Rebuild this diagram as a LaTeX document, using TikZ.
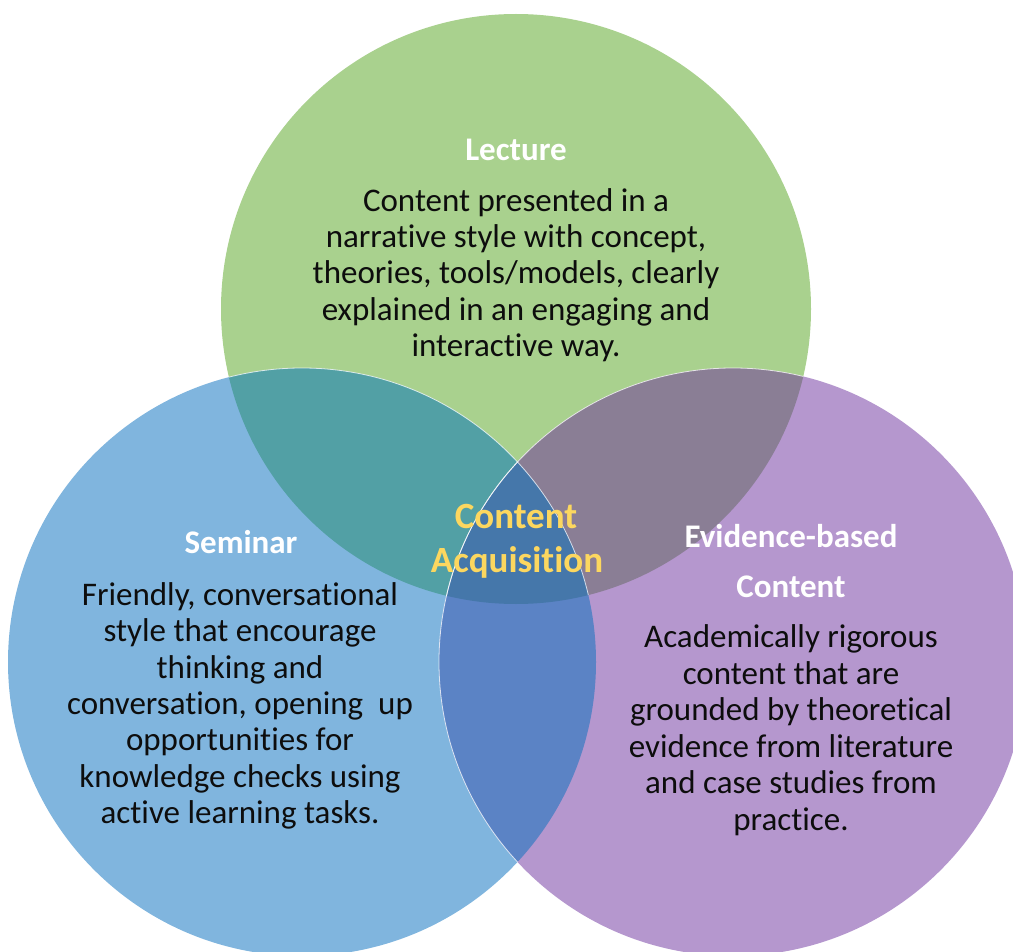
\documentclass[tikz,border=0pt]{standalone}
\usepackage{fontspec}
\setmainfont[Ligatures={NoCommon,NoRequired,NoContextual},Contextuals=NoAlternate]{Carlito}
\newcommand{\xti}{t\kern0pt i}
\definecolor{cgreen}{HTML}{A9D18E}
\definecolor{cblue}{HTML}{80B5DE}
\definecolor{cpurple}{HTML}{B597CE}
\definecolor{cgb}{HTML}{52A0A5}
\definecolor{cgp}{HTML}{8A7E95}
\definecolor{cbp}{HTML}{5B83C5}
\definecolor{cgbp}{HTML}{4577AA}
\definecolor{cgold}{HTML}{FCD75F}
\definecolor{ctext}{HTML}{0D0D0D}
\tikzset{
  bodyline/.style={anchor=base, inner sep=0pt, text=ctext, font=\fontsize{33}{36}\selectfont},
  headline/.style={anchor=base, inner sep=0pt, text=white, font=\fontsize{33}{36}\selectfont\bfseries},
  centerline/.style={anchor=base, inner sep=0pt, text=cgold, font=\fontsize{37}{44}\selectfont\bfseries},
  edgeline/.style={draw=white, draw opacity=0.75, line width=0.8pt}
}
\begin{document}
\begin{tikzpicture}[x=1pt,y=-1pt]
\useasboundingbox (0,0) rectangle (1013,952);
\clip (0,0) rectangle (1013,952);
\coordinate (G) at (516,309);
\coordinate (B) at (302,662);
\coordinate (P) at (733,662);
% circle fills
\fill[cgreen] (G) circle (295pt);
\fill[cblue] (B) circle (294pt);
\fill[cpurple] (P) circle (294pt);
\begin{scope}
  \clip (G) circle (295pt);
  \fill[cgb] (B) circle (294pt);
  \fill[cgp] (P) circle (294pt);
\end{scope}
\begin{scope}
  \clip (B) circle (294pt);
  \fill[cbp] (P) circle (294pt);
\end{scope}
\begin{scope}
  \clip (G) circle (295pt);
  \clip (B) circle (294pt);
  \fill[cgbp] (P) circle (294pt);
\end{scope}
% thin white edges
\begin{scope}
  \clip (G) circle (295pt);
  \draw[edgeline] (B) circle (294pt);
  \draw[edgeline] (P) circle (294pt);
\end{scope}
\begin{scope}
  \clip (B) circle (294pt);
  \draw[edgeline] (P) circle (294pt);
\end{scope}
% Lecture
\node[headline] (lech) at (516,161) {Lecture};
\node[bodyline] (lec1) at (516,212) {Content presented in a};
\node[bodyline] (lec2) at (516,248) {narrative style with concept,};
\node[bodyline] (lec3) at (516,284) {theories, tools/models, clearly};
\node[bodyline] (lec4) at (516,320) {explained in an engaging and};
\node[bodyline] (lec5) at (516,356) {interac\xti ve way.};
% Seminar
\node[headline] (semh) at (241,553) {Seminar};
\node[bodyline] (sem1) at (240,605) {Friendly, conversa\xti onal};
\node[bodyline] (sem2) at (240,641) {style that encourage};
\node[bodyline] (sem3) at (240,678) {thinking and};
\node[bodyline] (sem4) at (240,714) {conversa\xti on, opening\ \ up};
\node[bodyline] (sem5) at (240,750) {opportuni\xti es for};
\node[bodyline] (sem6) at (240,787) {knowledge checks using};
\node[bodyline] (sem7) at (240,823) {ac\xti ve learning tasks.};
% Evidence-based Content
\node[headline] (evh1) at (791,547) {Evidence-based};
\node[headline] (evh2) at (791,597) {Content};
\node[bodyline] (ev1) at (791,647) {Academically rigorous};
\node[bodyline] (ev2) at (791,684) {content that are};
\node[bodyline] (ev3) at (791,720) {grounded by theore\xti cal};
\node[bodyline] (ev4) at (791,757) {evidence from literature};
\node[bodyline] (ev5) at (791,793) {and case studies from};
\node[bodyline] (ev6) at (791,830) {prac\xti ce.};
% Centre
\node[centerline] (ca1) at (516,528) {Content};
\node[centerline] (ca2) at (517,572) {Acquisi\xti on};
\end{tikzpicture}
\end{document}
